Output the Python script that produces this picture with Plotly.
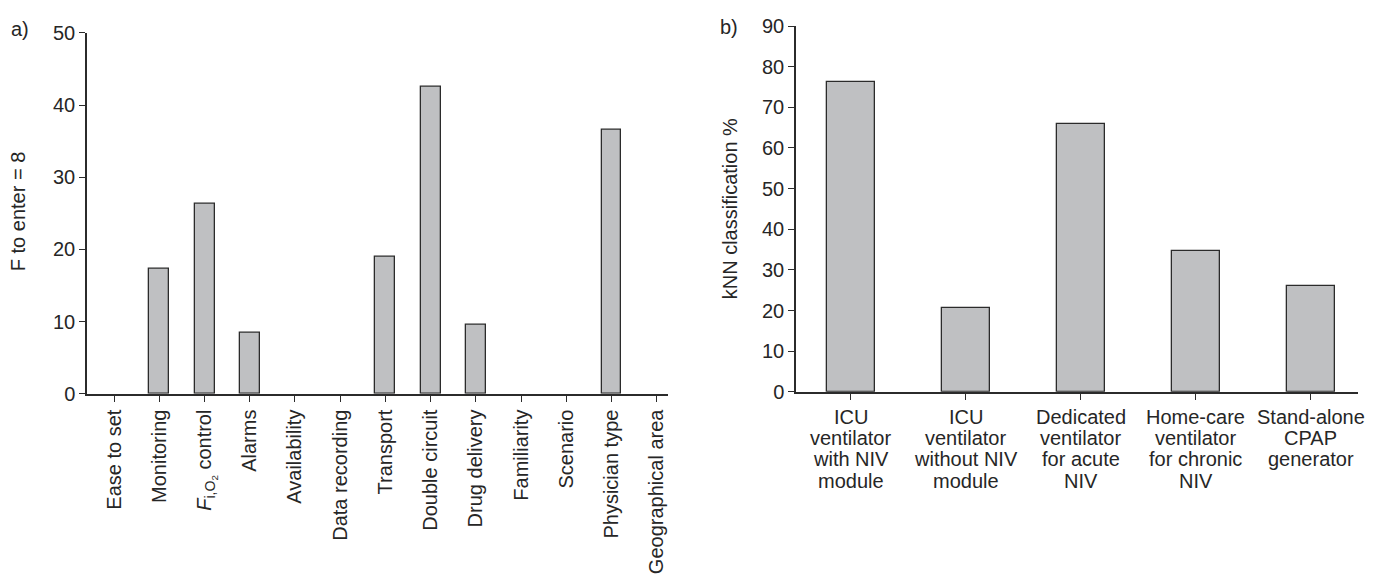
import plotly.graph_objects as go

# Panel a
cats_a = ["Ease to set", "Monitoring", "<i>F</i><sub>i,O<sub>2</sub></sub> control", "Alarms",
          "Availability", "Data recording", "Transport", "Double circuit", "Drug delivery",
          "Familiarity", "Scenario", "Physician type", "Geographical area"]
vals_a = [0, 17.3, 26.3, 8.5, 0, 0, 19.0, 42.5, 9.6, 0, 0, 36.5, 0]
yticks_a = [0, 10, 20, 30, 40, 50]

# Panel b
cats_b = [["ICU", "ventilator", "with NIV", "module"],
          ["ICU", "ventilator", "without NIV", "module"],
          ["Dedicated", "ventilator", "for acute", "NIV"],
          ["Home-care", "ventilator", "for chronic", "NIV"],
          ["Stand-alone", "CPAP", "generator"]]
vals_b = [76.2, 20.7, 65.8, 34.7, 26.1]
yticks_b = [0, 10, 20, 30, 40, 50, 60, 70, 80, 90]

W, H = 1383, 588
FONT = "Liberation Sans, Arial, Helvetica, sans-serif"
FS = 20
AX = "#2b2b2b"
TXT = "#262626"
FILL = "#bfc0c2"

fig = go.Figure()
fig.add_trace(go.Bar(x=list(range(len(cats_a))), y=vals_a, width=0.44,
                     marker=dict(color=FILL,
                                 line=dict(color=AX, width=[0 if v == 0 else 1.3 for v in vals_a])),
                     xaxis="x", yaxis="y", showlegend=False, hoverinfo="y"))
fig.add_trace(go.Bar(x=list(range(len(cats_b))), y=vals_b, width=0.42,
                     marker=dict(color=FILL, line=dict(color=AX, width=1.3)),
                     xaxis="x2", yaxis="y2", showlegend=False, hoverinfo="y"))

common_axis = dict(showline=True, linecolor=AX, linewidth=1.5, ticks="outside",
                   ticklen=6, tickcolor=AX, tickwidth=1.3, showgrid=False, zeroline=False,
                   tickfont=dict(family=FONT, size=FS, color=TXT))

annotations = [
    dict(text="a)", x=20 / W, y=1 - 19 / H, xref="paper", yref="paper", showarrow=False,
         xanchor="center", yanchor="middle", font=dict(family=FONT, size=FS, color=TXT)),
    dict(text="b)", x=729 / W, y=1 - 17 / H, xref="paper", yref="paper", showarrow=False,
         xanchor="center", yanchor="middle", font=dict(family=FONT, size=FS, color=TXT)),
    dict(text="F to enter = 8", x=18 / W, y=1 - 208 / H, xref="paper", yref="paper",
         showarrow=False, textangle=-90, xanchor="center", yanchor="middle",
         font=dict(family=FONT, size=FS, color=TXT)),
    dict(text="kNN classification %", x=730 / W, y=1 - 206 / H, xref="paper", yref="paper",
         showarrow=False, textangle=-90, xanchor="center", yanchor="middle",
         font=dict(family=FONT, size=FS, color=TXT)),
]
# multi-line category labels for panel b, with tight line spacing
for i, lines in enumerate(cats_b):
    for k, line in enumerate(lines):
        annotations.append(dict(text=line, x=i, y=0, xref="x2", yref="y2", showarrow=False,
                                xanchor="center", yanchor="middle", yshift=-(25 + 21.3 * k),
                                font=dict(family=FONT, size=FS, color=TXT)))

fig.update_layout(
    width=W, height=H, margin=dict(l=0, r=0, t=0, b=0, pad=0),
    plot_bgcolor="white", paper_bgcolor="white",
    font=dict(family=FONT, size=FS, color=TXT),
    bargap=0,
    xaxis=dict(domain=[87 / W, 668 / W], range=[-0.6, 12.25], tickmode="array",
               tickvals=list(range(len(cats_a))), ticktext=cats_a, tickangle=-90,
               anchor="y", **common_axis),
    yaxis=dict(domain=[1 - 397.7 / H, 1 - 22.7 / H], range=[0, 50], tickvals=yticks_a,
               anchor="x", **common_axis),
    xaxis2=dict(domain=[796 / W, 1358 / W], range=[-0.478, 4.41], tickmode="array",
                tickvals=list(range(len(cats_b))), ticktext=[""] * len(cats_b),
                anchor="y2", **common_axis),
    yaxis2=dict(domain=[1 - 395.6 / H, 1 - 15.6 / H], range=[0, 90], tickvals=yticks_b,
                anchor="x2", **common_axis),
    annotations=annotations,
)

fig.write_html("out.html", config={"displayModeBar": False},
               post_script="document.body.style.margin='0px';")
